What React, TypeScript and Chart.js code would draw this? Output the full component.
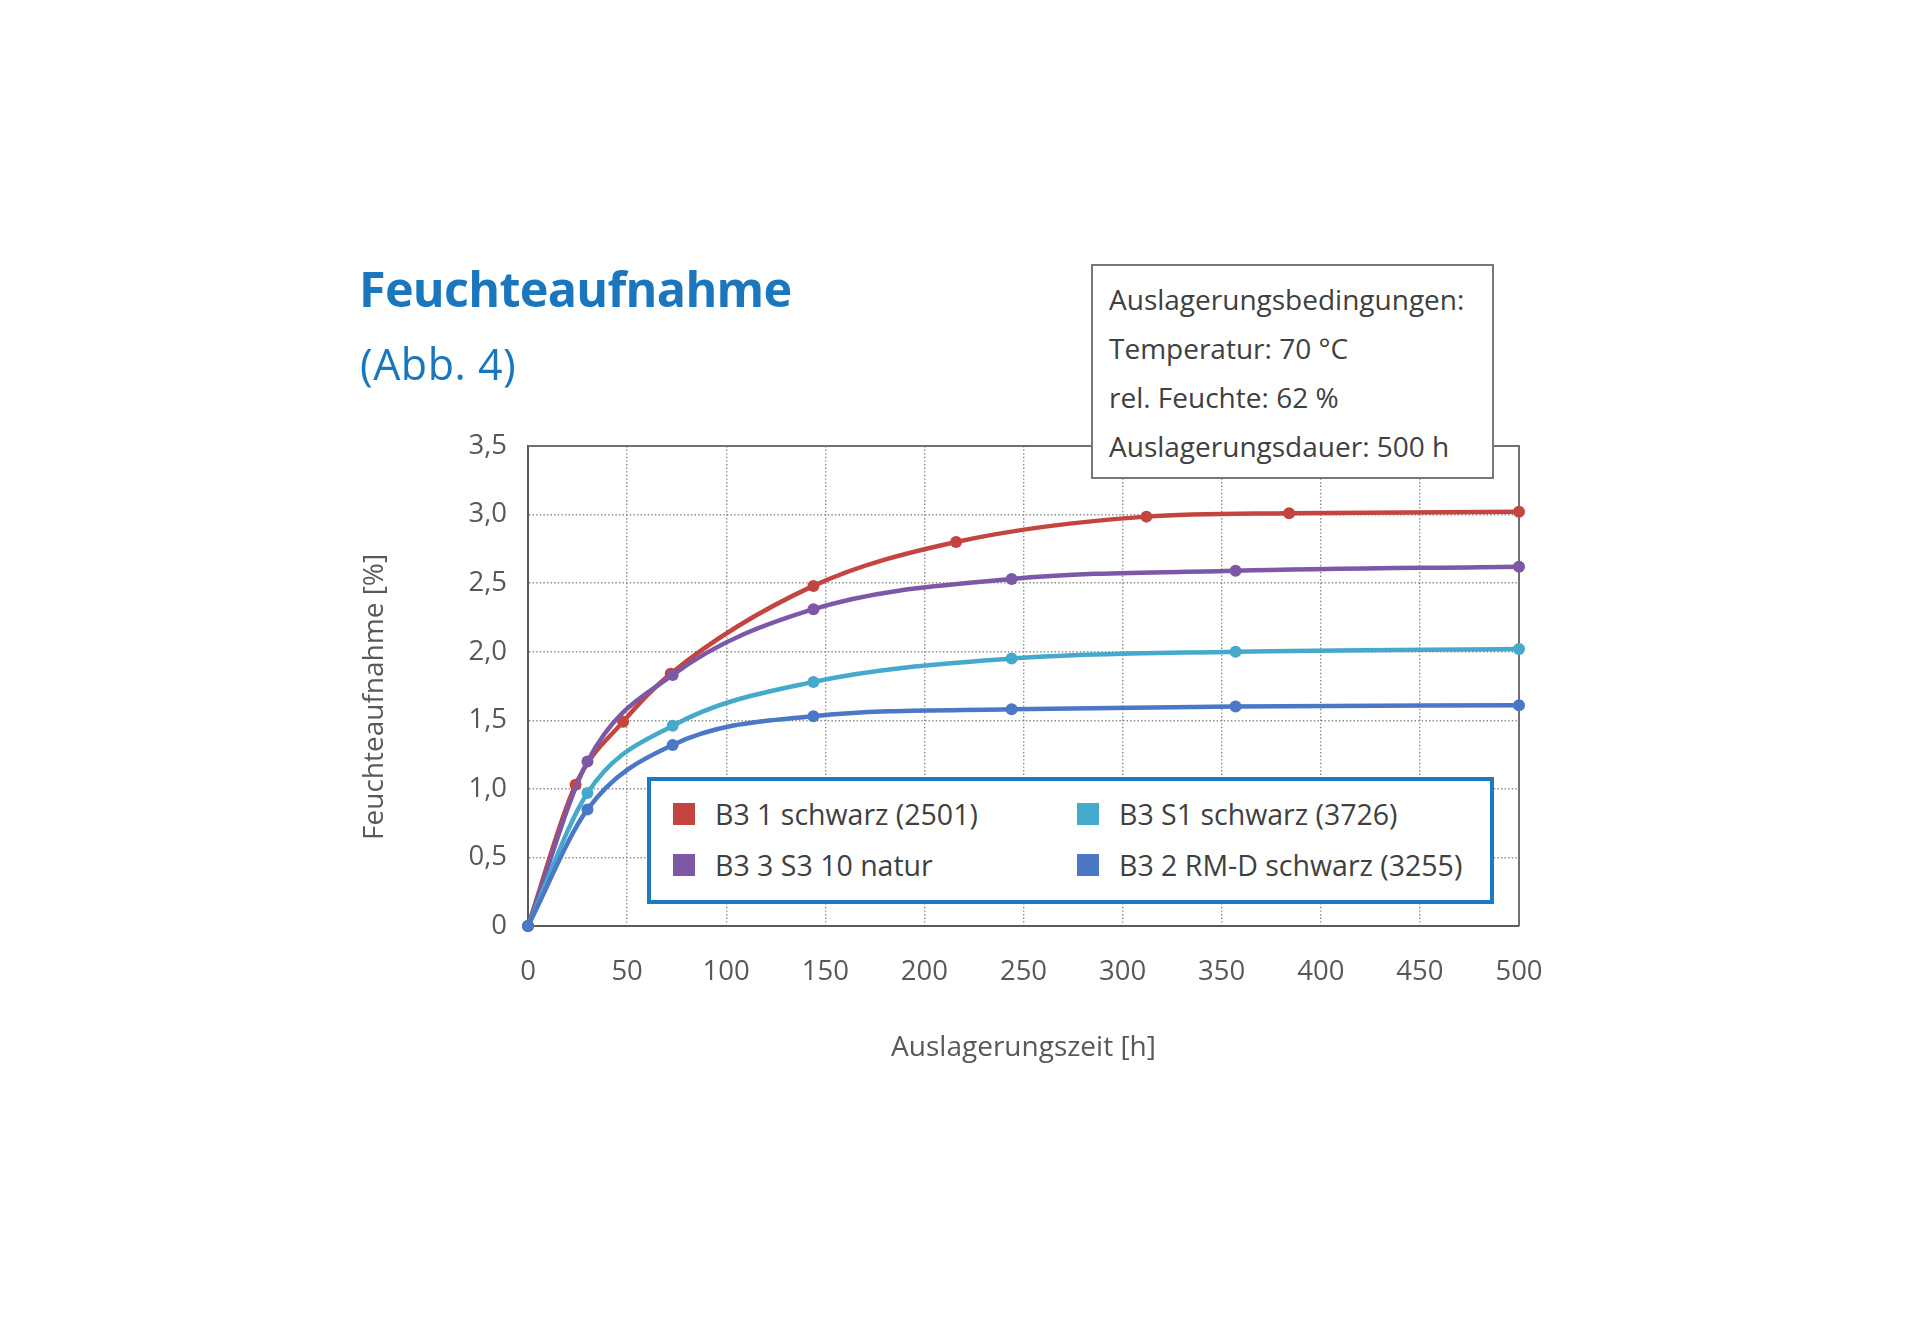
import React, { useEffect, useRef } from "react";
import { Chart, registerables } from "chart.js";

Chart.register(...registerables);

const FONT = "'Open Sans', 'Noto Sans', 'DejaVu Sans', sans-serif";

const chartTitle = "Feuchteaufnahme";
const chartSubtitle = "(Abb. 4)";
const xAxisTitle = "Auslagerungszeit [h]";
const yAxisTitle = "Feuchteaufnahme [%]";

const seriesNames = [
  "B3 1 schwarz (2501)",
  "B3 S1 schwarz (3726)",
  "B3 3 S3 10 natur",
  "B3 2 RM-D schwarz (3255)",
];
const seriesColors = ["#c4453f", "#44a9cb", "#7c58a7", "#4a77c6"];

const hoursRed = [0, 24, 48, 72, 144, 216, 312, 384, 500];
const valuesRed = [0, 1.03, 1.49, 1.84, 2.48, 2.8, 2.985, 3.01, 3.02];

const hoursOthers = [0, 30, 73, 144, 244, 357, 500];
const valuesCyan = [0, 0.97, 1.46, 1.78, 1.95, 2.0, 2.02];
const valuesPurple = [0, 1.2, 1.83, 2.31, 2.53, 2.59, 2.62];
const valuesBlue = [0, 0.85, 1.32, 1.53, 1.58, 1.6, 1.61];

const xTickValues = [0, 50, 100, 150, 200, 250, 300, 350, 400, 450, 500];
const yTickValues = [0, 0.5, 1, 1.5, 2, 2.5, 3, 3.5];
const yTickLabels = ["0", "0,5", "1,0", "1,5", "2,0", "2,5", "3,0", "3,5"];

const infoLines = [
  "Auslagerungsbedingungen:",
  "Temperatur: 70 °C",
  "rel. Feuchte: 62 %",
  "Auslagerungsdauer: 500 h",
];

const seriesHours = [hoursRed, hoursOthers, hoursOthers, hoursOthers];
const seriesValues = [valuesRed, valuesCyan, valuesPurple, valuesBlue];

const framePlugin = {
  id: "plotFrame",
  beforeDatasetsDraw(chart: any) {
    const { ctx, chartArea } = chart;
    const { left, right, top, bottom } = chartArea;
    ctx.save();
    ctx.strokeStyle = "#707070";
    ctx.lineWidth = 2;
    ctx.beginPath();
    ctx.moveTo(left, top);
    ctx.lineTo(right, top);
    ctx.lineTo(right, bottom);
    ctx.stroke();
    ctx.restore();
  },
};

export default function App() {
  const canvasRef = useRef<HTMLCanvasElement | null>(null);

  useEffect(() => {
    const canvas = canvasRef.current;
    if (!canvas) return;
    const datasets = seriesNames.map((name, i) => ({
      label: name,
      data: seriesHours[i].map((h, j) => ({ x: h, y: seriesValues[i][j] })),
      borderColor: seriesColors[i],
      backgroundColor: seriesColors[i],
      pointBackgroundColor: seriesColors[i],
      pointBorderColor: seriesColors[i],
      pointBorderWidth: 0,
      pointRadius: 6,
      borderWidth: 4.5,
      cubicInterpolationMode: "monotone" as const,
      fill: false,
      clip: false as any,
    }));
    // draw order: later datasets on top; keep red on top of purple as in reference
    const ordered = [datasets[3], datasets[1], datasets[2], datasets[0]];

    const chart = new Chart(canvas, {
      type: "line",
      data: { datasets: ordered },
      plugins: [framePlugin],
      options: {
        responsive: false,
        animation: false,
        events: [],
        layout: { padding: { left: 340, right: 401, top: 446, bottom: 249 } },
        plugins: {
          legend: { display: false },
          tooltip: { enabled: false },
          title: { display: false },
        },
        scales: {
          x: {
            type: "linear",
            min: 0,
            max: 500,
            afterBuildTicks: (scale: any) => {
              scale.ticks = xTickValues.map((v) => ({ value: v }));
            },
            afterFit: (scale: any) => {
              scale.height = 150;
            },
            grid: { color: "#8a8a8a", lineWidth: 1.4, drawTicks: false },
            border: { display: true, color: "#5a5a5a", width: 2, dash: [1.4, 2.2] },
            ticks: {
              padding: 30,
              color: "#595959",
              font: { family: FONT, size: 27.5 },
              maxRotation: 0,
              autoSkip: false,
              callback: (v: any) => String(v),
            },
            title: {
              display: true,
              text: xAxisTitle,
              color: "#595959",
              font: { family: FONT, size: 28 },
              padding: { top: 0, bottom: 11 },
            },
          },
          y: {
            type: "linear",
            min: 0,
            max: 3.5,
            afterBuildTicks: (scale: any) => {
              scale.ticks = yTickValues.map((v) => ({ value: v }));
            },
            afterFit: (scale: any) => {
              scale.width = 188;
            },
            grid: { color: "#8a8a8a", lineWidth: 1.4, drawTicks: false },
            border: { display: true, color: "#5a5a5a", width: 2, dash: [1.4, 2.2] },
            ticks: {
              padding: 21,
              color: "#595959",
              font: { family: FONT, size: 27.5 },
              autoSkip: false,
              callback: (v: any) => {
                const idx = yTickValues.indexOf(Number(v));
                return idx >= 0 ? yTickLabels[idx] : "";
              },
            },
            title: {
              display: true,
              text: yAxisTitle + "   ",
              color: "#595959",
              font: { family: FONT, size: 28 },
              padding: { top: 18, bottom: 0 },
            },
          },
        },
      } as any,
    });
    return () => chart.destroy();
  }, []);

  const legendOrder = [0, 1, 2, 3];

  return (
    <div
      style={{
        position: "absolute",
        left: 0,
        top: 0,
        width: 1920,
        height: 1325,
        background: "#ffffff",
        overflow: "hidden",
        fontFamily: FONT,
      }}
    >
      <canvas
        ref={canvasRef}
        width={1920}
        height={1325}
        style={{ position: "absolute", left: 0, top: 0, width: 1920, height: 1325 }}
      />
      <div
        style={{
          position: "absolute",
          left: 359,
          top: 264,
          fontSize: 48.5,
          lineHeight: "48.5px",
          letterSpacing: "-0.7px",
          fontWeight: 700,
          color: "#1a77bd",
          whiteSpace: "nowrap",
        }}
      >
        {chartTitle}
      </div>
      <div
        style={{
          position: "absolute",
          left: 360,
          top: 342,
          fontSize: 43,
          lineHeight: "43px",
          letterSpacing: "0.5px",
          fontWeight: 400,
          color: "#1a77bd",
          whiteSpace: "nowrap",
        }}
      >
        {chartSubtitle}
      </div>
      <div
        style={{
          position: "absolute",
          left: 1091,
          top: 264,
          width: 403,
          height: 215,
          boxSizing: "border-box",
          border: "2px solid #777777",
          background: "#ffffff",
          padding: "9px 0 0 16px",
          fontSize: 28,
          lineHeight: "49px",
          color: "#404040",
          whiteSpace: "nowrap",
        }}
      >
        {infoLines.map((t) => (
          <div key={t}>{t}</div>
        ))}
      </div>
      <div
        style={{
          position: "absolute",
          left: 647,
          top: 777,
          width: 847,
          height: 127,
          boxSizing: "border-box",
          border: "4px solid #1b7bc0",
          background: "#ffffff",
        }}
      >
        {legendOrder.map((si, k) => {
          const col = k % 2;
          const row = Math.floor(k / 2);
          const cy = row === 0 ? 32.5 : 83.5;
          const sqLeft = col === 0 ? 22 : 426;
          const txtLeft = col === 0 ? 64 : 468;
          return (
            <React.Fragment key={si}>
              <div
                style={{
                  position: "absolute",
                  left: sqLeft,
                  top: cy - 11,
                  width: 22,
                  height: 22,
                  background: seriesColors[si],
                }}
              />
              <div
                style={{
                  position: "absolute",
                  left: txtLeft,
                  top: cy - 20,
                  height: 40,
                  lineHeight: "40px",
                  fontSize: 28.5,
                  color: "#404040",
                  whiteSpace: "nowrap",
                }}
              >
                {seriesNames[si]}
              </div>
            </React.Fragment>
          );
        })}
      </div>
    </div>
  );
}
